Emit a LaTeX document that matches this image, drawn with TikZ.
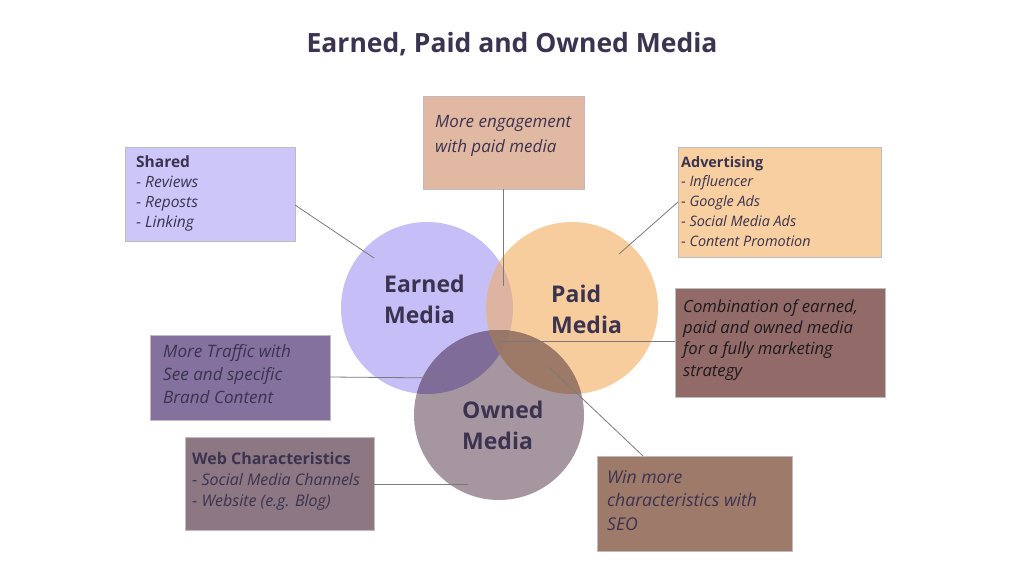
\documentclass[tikz,border=0pt]{standalone}
\usepackage{fontspec}
\setmainfont{Open Sans}
\definecolor{ink}{HTML}{3B3350}
\definecolor{inkdark}{HTML}{1E1A1E}
\definecolor{boxline}{HTML}{BDBDBD}
\definecolor{connc}{HTML}{7A7A7A}
\definecolor{cE}{HTML}{C6BEF7}
\definecolor{cP}{HTML}{F7CD9D}
\definecolor{cO}{HTML}{A696A0}
\definecolor{cEP}{HTML}{DDB4A2}
\definecolor{cEO}{HTML}{7F6C99}
\definecolor{cPO}{HTML}{9D7A68}
\definecolor{cEPO}{HTML}{987668}
\definecolor{bShared}{HTML}{CCC7F8}
\definecolor{bEng}{HTML}{E1B9A3}
\definecolor{bAdv}{HTML}{F7CFA0}
\definecolor{bComb}{HTML}{926A68}
\definecolor{bTraf}{HTML}{84719E}
\definecolor{bWeb}{HTML}{8C7782}
\definecolor{bWin}{HTML}{9E7A6A}
\begin{document}
\begin{tikzpicture}[x=1pt,y=-1pt,
  boxnode/.style={draw=boxline, line width=0.8pt, anchor=north west, inner sep=0pt, outer sep=0pt},
  txt/.style={anchor=north west, inner sep=0pt, align=left, text=ink},
  conn/.style={draw=connc, line width=0.8pt},
  lbl/.style={anchor=north west, inner sep=0pt, align=left, text=ink, font=\fontsize{23}{31}\selectfont\bfseries}]
\useasboundingbox (0,0) rectangle (1024,576);
\fill[white] (0,0) rectangle (1024,576);

% title
\node[anchor=base, inner sep=0pt, text=ink, font=\fontsize{26.5}{30}\selectfont\bfseries] (title) at (512,52) {Earned, Paid and Owned Media};

% circles
\fill[cE] (427,308) circle[radius=86];
\fill[cP] (572,308) circle[radius=86];
\begin{scope}\clip (427,308) circle[radius=86]; \fill[cEP] (572,308) circle[radius=86];\end{scope}
\fill[cO] (499,415) circle[radius=85];
\begin{scope}\clip (499,415) circle[radius=85]; \fill[cEO] (427,308) circle[radius=86];\end{scope}
\begin{scope}\clip (499,415) circle[radius=85]; \fill[cPO] (572,308) circle[radius=86];\end{scope}
\begin{scope}\clip (499,415) circle[radius=85]; \clip (427,308) circle[radius=86]; \fill[cEPO] (572,308) circle[radius=86];\end{scope}

% circle labels
\node[lbl] (earned) at (384,270.3) {\strut Earned\\Media};
\node[lbl] (paid) at (551,280.3) {\strut Paid\\Media};
\node[lbl] (owned) at (462,396.3) {\strut Owned\\Media};

% boxes
\node[boxnode, fill=bShared, minimum width=170pt, minimum height=94pt] (shared) at (125,147) {};
\node[boxnode, fill=bEng, minimum width=161pt, minimum height=93pt] (eng) at (423,96) {};
\node[boxnode, fill=bAdv, minimum width=203pt, minimum height=110pt] (adv) at (678,147) {};
\node[boxnode, fill=bComb, minimum width=210pt, minimum height=109pt] (comb) at (675,288) {};
\node[boxnode, fill=bTraf, minimum width=180pt, minimum height=85pt] (traf) at (150,335) {};
\node[boxnode, fill=bWeb, minimum width=189pt, minimum height=93pt] (web) at (185,437) {};
\node[boxnode, fill=bWin, minimum width=195pt, minimum height=95pt] (win) at (597,456) {};

% box texts
\node[txt, font=\fontsize{15.5}{20}\selectfont] (sharedtxt) at (136,153) {\strut\textbf{Shared}\\- \textit{Reviews}\\- \textit{Reposts}\\- \textit{Linking}};
\node[txt, font=\fontsize{17}{25}\selectfont] (engtxt) at (435,109.5) {\strut\textit{More engagement}\\\textit{with paid media}};
\node[txt, font=\fontsize{14.4}{19.75}\selectfont] (advtxt) at (681,153.2) {\strut\textbf{Advertising}\\- \textit{Influencer}\\- \textit{Google Ads}\\- \textit{Social Media Ads}\\- \textit{Content Promotion}};
\node[txt, text=inkdark, font=\fontsize{16.7}{21.3}\selectfont] (combtxt) at (683,297.1) {\strut\textit{Combination of earned,}\\\textit{paid and owned media}\\\textit{for a fully marketing}\\\textit{strategy}};
\node[txt, font=\fontsize{17.1}{23}\selectfont] (traftxt) at (163,340.9) {\strut\textit{More Traffic with}\\\textit{See and specific}\\\textit{Brand Content}};
\node[txt, font=\fontsize{16}{21}\selectfont] (webtxt) at (192,449.3) {\strut\textbf{Web Characteristics}\\- \textit{Social Media Channels}\\- \textit{Website (e.g. Blog)}};
\node[txt, font=\fontsize{17.6}{23.5}\selectfont] (wintxt) at (607,466.5) {\strut\textit{Win more}\\\textit{characteristics with}\\\textit{SEO}};

% connector end points
\coordinate (sharedA) at (295,205);
\coordinate (sharedB) at (374,258);
\coordinate (engA) at (503,189);
\coordinate (engB) at (503,286);
\coordinate (advA) at (678,202);
\coordinate (advB) at (619,254);
\coordinate (combA) at (675,341);
\coordinate (combB) at (500,341);
\coordinate (trafA) at (330,377);
\coordinate (trafB) at (444,378);
\coordinate (webA) at (374,484);
\coordinate (webB) at (468,484);
\coordinate (winA) at (643,456);
\coordinate (winB) at (549,367);

\draw[conn] (sharedA) -- (sharedB);
\draw[conn] (engA) -- (engB);
\draw[conn] (advA) -- (advB);
\draw[conn] (combA) -- (combB);
\draw[conn] (trafA) -- (trafB);
\draw[conn] (webA) -- (webB);
\draw[conn] (winA) -- (winB);
\end{tikzpicture}
\end{document}
